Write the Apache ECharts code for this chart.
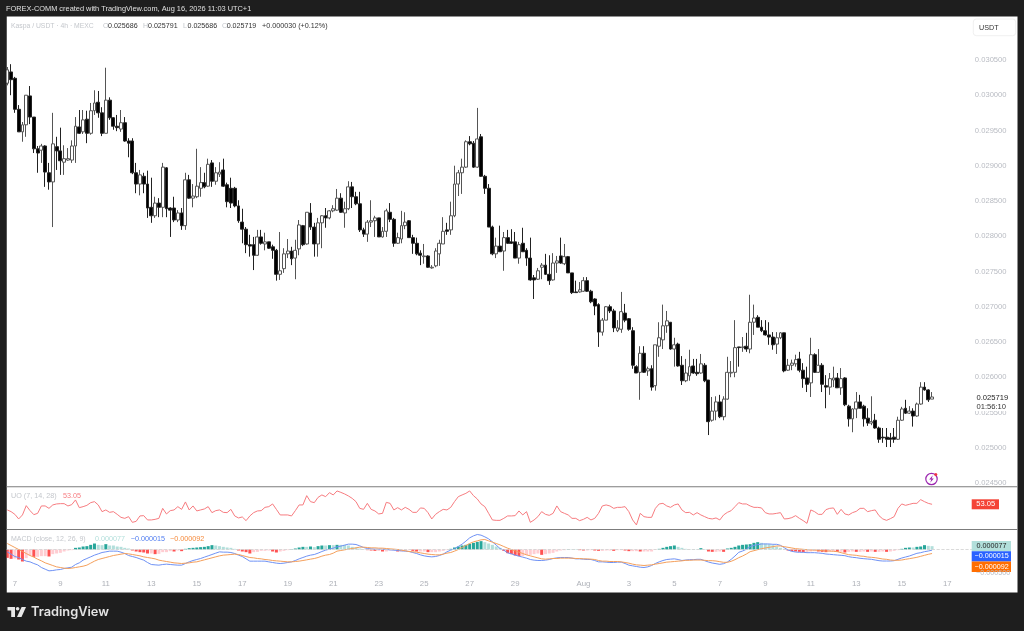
<!DOCTYPE html>
<html><head><meta charset="utf-8">
<style>html,body{margin:0;padding:0;background:#1e1e1e}#c{width:1024px;height:631px}</style>
<script src="https://cdn.jsdelivr.net/npm/echarts@6/dist/echarts.min.js"></script>
</head><body><div id="c"></div>
<script>
// Prices are in units of 0.00001 USDT
const opens=[3017,3033,3024,2980,2948,2958,2999,2969,2924,2922,
2928,2890,2877,2927,2921,2905,2908,2908,2928,2955,
2948,2966,2946,2978,2990,2975,2946,2993,2968,2956,
2952,2961,2935,2935,2890,2874,2885,2874,2841,2829,
2847,2841,2897,2840,2840,2823,2833,2815,2880,2854,
2856,2868,2876,2871,2904,2878,2888,2894,2873,2868,
2868,2843,2820,2810,2788,2788,2773,2799,2789,2792,
2785,2780,2746,2754,2775,2779,2769,2782,2815,2789,
2833,2813,2789,2819,2829,2826,2836,2837,2854,2833,
2839,2870,2856,2846,2809,2803,2820,2822,2826,2799,
2807,2834,2824,2790,2796,2815,2822,2798,2790,2776,
2771,2772,2755,2758,2775,2789,2809,2809,2829,2874,
2890,2898,2934,2932,2898,2941,2885,2868,2813,2775,
2786,2779,2798,2792,2792,2769,2790,2780,2769,2741,
2739,2756,2759,2746,2738,2762,2772,2761,2771,2748,
2721,2721,2722,2737,2722,2711,2703,2664,2681,2700,
2694,2666,2668,2691,2683,2666,2615,2607,2634,2609,
2612,2588,2644,2653,2673,2678,2640,2647,2617,2595,
2602,2616,2607,2606,2617,2596,2539,2552,2565,2544,
2569,2606,2607,2643,2642,2644,2640,2678,2685,2671,
2666,2660,2657,2647,2656,2663,2610,2617,2619,2626,
2610,2599,2592,2632,2607,2617,2588,2586,2596,2599,
2585,2599,2559,2541,2555,2565,2559,2542,2535,2539,
2528,2515,2515,2514,2515,2512,2539,2556,2549,2552,
2545,2562,2586,2582,2569];
const closes=[3036,3022,2980,2948,2958,3000,2969,2924,2918,2928,
2891,2877,2931,2921,2907,2910,2910,2928,2956,2946,
2965,2946,2978,2989,2975,2946,2993,2968,2956,2954,
2961,2935,2932,2890,2874,2887,2874,2840,2829,2847,
2841,2898,2839,2837,2823,2833,2815,2880,2854,2857,
2871,2876,2870,2902,2878,2890,2891,2871,2849,2847,
2843,2822,2810,2788,2786,2773,2799,2790,2792,2783,
2780,2746,2751,2775,2779,2768,2780,2816,2788,2834,
2813,2789,2819,2829,2826,2836,2839,2854,2834,2839,
2870,2856,2846,2809,2803,2820,2822,2826,2799,2807,
2836,2824,2790,2798,2815,2820,2798,2790,2775,2773,
2772,2756,2756,2779,2790,2807,2807,2829,2874,2890,
2898,2934,2931,2898,2938,2885,2868,2813,2775,2786,
2778,2798,2790,2790,2769,2788,2778,2769,2738,2738,
2751,2759,2746,2737,2762,2765,2762,2771,2748,2720,
2720,2724,2737,2722,2707,2701,2664,2681,2700,2694,
2670,2670,2693,2681,2668,2617,2606,2634,2607,2612,
2586,2646,2656,2673,2680,2640,2646,2616,2595,2606,
2615,2606,2605,2619,2595,2537,2552,2565,2544,2569,
2607,2607,2642,2642,2643,2640,2678,2684,2671,2666,
2660,2657,2646,2656,2663,2609,2617,2620,2625,2610,
2598,2590,2632,2607,2617,2590,2586,2598,2599,2585,
2598,2561,2541,2555,2565,2556,2541,2535,2537,2528,
2512,2514,2512,2512,2512,2539,2555,2549,2552,2545,
2562,2586,2582,2568,2572];
const highs=[3040,3044,3026,2986,2962,3000,3013,2969,2928,2931,
2929,2904,2975,2941,2954,2929,2925,2936,2969,2979,
2979,2978,2989,3007,3006,2983,3039,2997,2969,2972,
2979,2969,2939,2939,2904,2894,2890,2893,2883,2856,
2854,2904,2898,2841,2856,2837,2840,2890,2887,2874,
2924,2898,2890,2910,2908,2898,2905,2910,2876,2883,
2870,2851,2839,2813,2802,2799,2809,2809,2805,2792,
2788,2782,2806,2783,2796,2785,2795,2823,2816,2834,
2847,2819,2826,2830,2840,2837,2844,2867,2861,2849,
2878,2877,2863,2863,2812,2823,2851,2829,2826,2813,
2839,2847,2826,2805,2836,2834,2823,2802,2798,2780,
2789,2773,2759,2783,2795,2827,2819,2849,2900,2894,
2910,2936,2942,2935,2982,2945,2887,2874,2815,2798,
2815,2806,2809,2810,2806,2792,2812,2783,2798,2745,
2755,2762,2775,2773,2776,2772,2798,2789,2772,2748,
2737,2735,2742,2742,2724,2712,2705,2684,2701,2703,
2697,2681,2721,2704,2684,2671,2617,2644,2644,2615,
2617,2646,2678,2703,2694,2678,2656,2649,2630,2626,
2639,2626,2626,2633,2620,2596,2572,2573,2575,2573,
2629,2623,2681,2643,2657,2663,2717,2703,2688,2681,
2681,2678,2664,2664,2664,2663,2626,2625,2632,2636,
2620,2615,2656,2634,2640,2620,2603,2606,2615,2606,
2613,2600,2561,2556,2579,2575,2561,2556,2573,2548,
2530,2528,2528,2521,2528,2544,2558,2568,2559,2556,
2564,2593,2593,2583,2579];
const lows=[3014,3000,2975,2948,2934,2941,2959,2918,2890,2904,
2870,2866,2813,2894,2887,2887,2907,2904,2904,2945,
2945,2932,2944,2972,2968,2942,2946,2965,2951,2949,
2948,2934,2912,2888,2861,2858,2861,2826,2819,2826,
2827,2827,2827,2799,2820,2820,2809,2809,2853,2841,
2854,2856,2868,2870,2870,2873,2884,2870,2841,2840,
2841,2819,2790,2776,2771,2752,2772,2788,2780,2782,
2768,2737,2738,2748,2769,2759,2739,2773,2786,2788,
2809,2771,2771,2783,2812,2824,2834,2836,2833,2812,
2837,2840,2844,2806,2799,2792,2813,2799,2799,2798,
2799,2820,2785,2789,2790,2810,2798,2775,2773,2759,
2761,2755,2754,2756,2758,2789,2802,2802,2827,2857,
2860,2897,2929,2897,2897,2884,2860,2813,2773,2769,
2778,2751,2789,2789,2769,2761,2778,2758,2737,2711,
2738,2739,2745,2731,2737,2748,2761,2759,2748,2718,
2720,2720,2721,2721,2705,2688,2643,2659,2681,2691,
2664,2664,2663,2678,2666,2612,2606,2568,2606,2602,
2581,2581,2629,2640,2663,2639,2615,2615,2589,2593,
2595,2605,2602,2605,2593,2518,2537,2539,2542,2539,
2568,2600,2600,2615,2636,2636,2634,2660,2671,2664,
2659,2646,2639,2633,2654,2607,2609,2610,2615,2607,
2585,2579,2572,2606,2606,2579,2556,2575,2586,2585,
2575,2559,2530,2522,2542,2556,2530,2531,2532,2527,
2507,2507,2501,2501,2507,2511,2538,2548,2548,2530,
2544,2561,2581,2565,2569];
const uo=[47.4,45.7,43,38.4,42.4,51.7,46.7,42.7,44,51.4,51.4,49,52.4,53.4,53.7,53.7,51.4,52.7,57.4,49.7,50.7,52,54.7,55.7,52.4,45.7,47.4,45,45.7,43,40,39,40.7,35,36,41.4,41.7,37.4,37.4,38,39,49,43.4,46.7,47.4,50.7,48,55.4,47.4,51.4,46.4,47.4,48.4,50.7,44.7,46.7,47.4,45,44.7,48,41.4,39.4,40.4,36.7,41.4,44.7,46.4,46.7,50,50.7,53.4,48,42.4,42.4,42.4,41.4,46.7,52.4,52.4,61.7,55.7,54.7,60,62.4,60.7,64.7,62.4,66.4,
65,63.4,61.4,59,55.7,49,48,54,48,46.4,43.4,44,55,54,47.4,49.7,47.4,50,48,45,45,49.4,49,44.7,38.4,43,45.7,48,47.4,50,55.7,60.7,62.4,64,66.4,61.7,58.4,53.4,50.7,44,37.4,37,37,39,41.4,41.4,41.7,46.4,42.4,45.7,35,37.4,40.7,45.7,43,42,44,51.4,45.7,44,42.4,39,39,36.7,38,40,37.4,39,44,51.4,52.4,51.4,49,50,50,50.7,45.7,37.4,32.4,44,40.7,40,40,49,53.4,54,51.4,50,52.4,53.4,47.4,
44.7,45,42.4,44.7,42.4,40.7,39,38.4,39.4,37.4,42.4,45,46.7,50.7,54.7,53.4,53.4,51.4,50,50,49.4,44.7,43.4,43.4,44,44.7,38.4,38.7,39.7,41.7,39,36.7,34,47.4,45.7,43,43,47.7,49,49.4,43,48,43.4,42.4,44.7,46,49,49,45.7,46.7,47.4,41.7,38.4,37,38.7,40.7,49,53.4,52,53,54,54,57.7,55.7,54,53.05];
// MACD pane values are in millionths of a USDT
const macdLine=[-54,-107,-161,-184,-230,-268,-284,-322,-353,-414,-453,-491,-483,-468,-460,-437,-422,-407,-345,-307,-245,-207,-169,-130,-100,-69,-54,-38,-38,-38,-61,-92,-138,-161,-184,-215,-245,-299,-345,-353,-360,-345,-337,-345,-353,-360,-360,-322,-284,-253,-230,-207,-176,-146,-115,-84,-54,-61,-61,-69,-92,-130,-161,-215,-268,-268,-268,-268,-268,-284,-299,-314,-322,-314,-299,-284,-253,-215,-184,-153,-130,-115,-84,-46,-15,8,31,61,
77,100,123,123,115,84,46,23,15,8,8,8,0,-8,-15,-23,-31,-38,-46,-69,-92,-123,-146,-161,-169,-161,-138,-107,-54,-15,15,69,123,192,268,314,345,330,291,245,176,100,23,-15,-77,-100,-130,-153,-176,-199,-230,-245,-253,-253,-245,-230,-207,-192,-184,-184,-184,-199,-215,-215,-222,-230,-230,-253,-284,-284,-291,-299,-299,-291,-291,-322,-360,-376,-391,-407,-414,-399,-368,-322,-284,-253,-230,-222,-215,-230,-253,
-242,-234,-234,-226,-226,-257,-288,-311,-326,-341,-326,-288,-226,-150,-65,-35,4,65,96,111,127,127,127,119,119,96,42,-12,-42,-58,-65,-65,-73,-73,-73,-81,-88,-104,-111,-119,-127,-134,-142,-165,-180,-188,-203,-211,-219,-226,-242,-257,-265,-265,-265,-257,-226,-196,-173,-150,-119,-88,-73,-50,-35,-15];
const signalLine=[138,92,46,0,-46,-92,-138,-176,-222,-261,-307,-337,-368,-399,-414,-430,-437,-430,-414,-399,-384,-360,-314,-268,-230,-207,-184,-161,-138,-123,-107,-92,-100,-115,-130,-146,-169,-184,-199,-215,-245,-261,-276,-291,-307,-314,-322,-314,-307,-291,-284,-261,-238,-215,-192,-169,-146,-130,-123,-115,-107,-115,-138,-161,-184,-192,-207,-215,-230,-238,-253,-261,-268,-276,-284,-284,-276,-268,-253,-238,-222,-207,-184,-153,-130,-115,-84,-38,
-23,-8,8,23,38,54,54,46,38,38,31,31,23,15,8,0,-15,-31,-46,-54,-61,-77,-92,-107,-115,-123,-123,-107,-84,-69,-38,0,46,92,138,176,199,222,230,199,169,138,107,69,31,0,-31,-61,-92,-123,-146,-169,-192,-215,-222,-215,-207,-207,-199,-199,-199,-199,-207,-207,-215,-215,-222,-230,-253,-268,-268,-276,-276,-276,-284,-299,-314,-337,-353,-360,-368,-360,-353,-337,-322,-307,-291,-284,-276,-268,-261,
-249,-249,-242,-242,-242,-249,-257,-257,-265,-280,-295,-295,-272,-234,-188,-150,-104,-50,-27,-4,19,35,50,65,81,81,65,50,35,19,12,4,-4,-12,-12,-19,-27,-35,-35,-42,-50,-73,-96,-119,-127,-134,-150,-157,-173,-180,-188,-203,-219,-226,-242,-249,-249,-242,-226,-211,-196,-180,-157,-134,-111,-92];
const macdHist=[-192,-215,-207,-230,-276,-199,-138,-169,-169,-153,
-153,-161,-107,-92,-77,-46,-23,-15,38,46,
69,77,107,138,107,100,123,92,92,69,
61,38,23,-23,-46,-61,-69,-92,-92,-107,
-100,-61,-61,-38,-46,-23,-38,15,31,38,
46,54,61,77,100,92,77,61,46,38,
15,-23,-46,-61,-92,-61,-54,-31,-31,-23,
-46,-69,-46,-31,-15,8,23,46,61,61,
69,54,77,92,92,100,100,107,
107,107,92,61,46,23,8,-15,-23,-31,
-31,-46,-46,-23,-23,-46,-46,-31,-15,-31,
-46,-46,-46,-61,-61,-61,-46,-31,-15,15,
46,69,92,107,130,153,176,192,169,138,
107,69,38,-31,-84,-107,-138,-153,-153,-130,
-123,-107,-92,-123,-107,-92,-77,-46,-23,-15,
8,8,8,-15,-23,-23,-15,-23,-31,-31,
-23,-23,-31,-15,-15,-23,-38,-38,-38,-46,
-46,-46,-46,-8,15,38,61,77,92,61,38,
15,8,8,8,31,8,-46,-54,-54,-46,-54,
23,38,61,92,107,115,123,153,169,153,
138,123,100,69,38,15,-23,-38,-46,-54,
-61,-61,-46,-38,-46,-54,-61,-54,-46,-54,
-54,-69,-54,-46,-54,-54,-46,-54,-46,-54,
-54,-46,-54,-46,-31,-15,15,38,46,46,
61,69,100,84,77];
const dayLabels=['7','9','11','13','15','17','19','21','23','25','27','29','Aug','3','5','7','9','11','13','15','17'];
const dayLabelBars=[2,14,26,38,50,62,74,86,98,110,122,134,152,164,176,188,200,212,224,236,248];
const barCount=255;

const tickAt={};dayLabelBars.forEach((b,i)=>tickAt[b]=dayLabels[i]);
const categories=Array.from({length:barCount},(_,i)=>'b'+i);
const candleData=opens.map((o,i)=>[o*1e-5,closes[i]*1e-5,lows[i]*1e-5,highs[i]*1e-5]);
const histData=macdHist.map((v,i)=>{
  const p=i?macdHist[i-1]:0;
  const c=v>=0?(v>p?'#26a69a':'#b2dfdb'):(v<p?'#ff5252':'#ffcdd2');
  return {value:v,itemStyle:{color:c}};
});
const F='"Liberation Sans",Arial,sans-serif';
const L=5.4,R=52.15;
const txt=(x,y,t,size,fill,extra)=>Object.assign({type:'text',x,y,z:50,style:Object.assign({text:t,font:size+'px '+F,fill,textVerticalAlign:'middle',textBaseline:'middle'},extra||{})});
const rect=(x,y,w,h,fill,z,extra)=>Object.assign({type:'rect',z,shape:{x,y,width:w,height:h},style:{fill}},extra||{});
const graphics=[
 rect(6.5,16.5,1011,576,'#ffffff',-10),
 rect(0,0,6.5,600,'#1e1e1e',40),
 rect(6.5,486.3,1011,1,'#7c7c7c',41),
 rect(6.5,529,1011,1,'#7c7c7c',41),
 txt(6,9,'FOREX-COMM created with TradingView.com, Aug 16, 2026 11:03 UTC+1',7.4,'#e0e0e0'),
 txt(11,26,'Kaspa / USDT · 4h · MEXC',6.8,'#c4c7cc'),
 txt(103,26,'O',7.1,'#c4c7cc'),txt(108,26,'0.025686',7.1,'#333'),
 txt(143,26,'H',7.1,'#c4c7cc'),txt(148,26,'0.025791',7.1,'#333'),
 txt(183,26,'L',7.1,'#c4c7cc'),txt(187.5,26,'0.025686',7.1,'#333'),
 txt(222,26,'C',7.1,'#c4c7cc'),txt(226.7,26,'0.025719',7.1,'#333'),
 txt(262,26,'+0.000030 (+0.12%)',7.2,'#333'),
 {type:'rect',z:45,shape:{x:973.3,y:19,width:42.4,height:16.7,r:3},style:{fill:'#fff',stroke:'#f0f0f0',lineWidth:1}},
 txt(979,28,'USDT',7.2,'#333'),
 rect(973,393,43,18,'#ffffff',45),
 txt(976.5,398,'0.025719',7.6,'#222'),
 txt(976.5,407,'01:56:10',7.6,'#333'),
 txt(11,496,'UO (7, 14, 28)',7.2,'#c4c7cc'),
 txt(63,496,'53.05',7.2,'#f77c80'),
 rect(971.7,499.3,27.3,10,'#f44336',45),
 txt(976.3,504.4,'53.05',7.6,'#ffffff'),
 txt(11,539,'MACD (close, 12, 26, 9)',7,'#c4c7cc'),
 txt(95,539,'0.000077',7.2,'#b2dfdb'),
 txt(130.7,539,'−0.000015',7.2,'#4f7cf0'),
 txt(170,539,'−0.000092',7.2,'#f58a3c'),
 txt(976,573.5,'−0.000500',7.2,'#b8bbc2'),
 rect(971.7,541,39.3,10.3,'#b2dfdb',45),
 txt(976.5,546.2,'0.000077',7.2,'#222'),
 rect(971.7,551.3,39.3,10.3,'#2962ff',45),
 txt(974.5,556.5,'−0.000015',7.2,'#ffffff'),
 rect(971.7,561.6,39.3,10.3,'#ff6d00',45),
 txt(974.5,566.8,'−0.000092',7.2,'#ffffff'),
 {type:'circle',z:45,shape:{cx:931.5,cy:479,r:5.7},style:{fill:'#fff',stroke:'#9c27b0',lineWidth:1.2}},
 {type:'polygon',z:46,shape:{points:[[932.8,475.2],[929.2,479.6],[931.3,479.6],[930.2,482.8],[933.8,478.4],[931.7,478.4]]},style:{fill:'#9c27b0'}},
 {type:'circle',z:47,shape:{cx:935.8,cy:474.6,r:1.5},style:{fill:'#f23645'}},
 {type:'polygon',z:45,shape:{points:[[7.5,607],[15,607],[15,617],[11.2,617],[11.2,610.5],[7.5,610.5]]},style:{fill:'#e8e8e8'}},
 {type:'circle',z:45,shape:{cx:17.6,cy:608.8,r:1.8},style:{fill:'#e8e8e8'}},
 {type:'polygon',z:45,shape:{points:[[21.6,607],[26,607],[21.5,617],[17,617]]},style:{fill:'#e8e8e8'}},
 txt(31,612,'TradingView',12.8,'#e4e4e4',{font:'600 12.8px Inter,"Liberation Sans",sans-serif'})
];
const chart=echarts.init(document.getElementById('c'),null,{renderer:'canvas'});
const xBase={type:'category',data:categories,boundaryGap:true,axisLine:{show:false},axisTick:{show:false},splitLine:{show:false}};
chart.setOption({
 animation:false,
 backgroundColor:'#1e1e1e',
 graphic:{elements:graphics},
 grid:[
  {left:L,right:R,top:24.7,height:458.3},
  {left:L,right:R,top:488,height:41},
  {left:L,right:R,top:530,height:45}
 ],
 xAxis:[
  Object.assign({},xBase,{gridIndex:0,axisLabel:{show:false}}),
  Object.assign({},xBase,{gridIndex:1,axisLabel:{show:false}}),
  Object.assign({},xBase,{gridIndex:2,axisLabel:{show:true,interval:0,hideOverlap:false,margin:5,color:'#aeb1b8',fontSize:7.8,fontFamily:F,formatter:(v,i)=>tickAt[i]||''}})
 ],
 yAxis:[
  {gridIndex:0,type:'value',position:'right',min:0.0245,max:0.031,interval:0.0005,scale:true,
   axisLine:{show:false},axisTick:{show:false},splitLine:{show:false},
   axisLabel:{margin:3,color:'#b8bbc2',fontSize:7.6,fontFamily:F,formatter:v=>v>0.03075?'':v.toFixed(6)}},
  {gridIndex:1,type:'value',min:28.35,max:69.35,show:false},
  {gridIndex:2,type:'value',min:-586.5,max:448.5,show:false}
 ],
 series:[
  {type:'candlestick',name:'Kaspa / USDT',xAxisIndex:0,yAxisIndex:0,data:candleData,barWidth:3.4,
   itemStyle:{color:'#ffffff',color0:'#000000',borderColor:'#555555',borderColor0:'#222222',borderWidth:1}},
  {type:'line',name:'UO',xAxisIndex:1,yAxisIndex:1,data:uo,showSymbol:false,symbol:'none',lineStyle:{color:'#f77c80',width:1}},
  {type:'bar',name:'Histogram',xAxisIndex:2,yAxisIndex:2,data:histData,barWidth:3,z:1,
   markLine:{silent:true,symbol:'none',label:{show:false},data:[{yAxis:0}],lineStyle:{color:'#d0d0d0',type:'dashed',width:0.8}}},
  {type:'line',name:'MACD',xAxisIndex:2,yAxisIndex:2,data:macdLine,showSymbol:false,symbol:'none',lineStyle:{color:'#6f92f5',width:1},z:3},
  {type:'line',name:'Signal',xAxisIndex:2,yAxisIndex:2,data:signalLine,showSymbol:false,symbol:'none',lineStyle:{color:'#f5a05c',width:1},z:4}
 ]
});
</script></body></html>
